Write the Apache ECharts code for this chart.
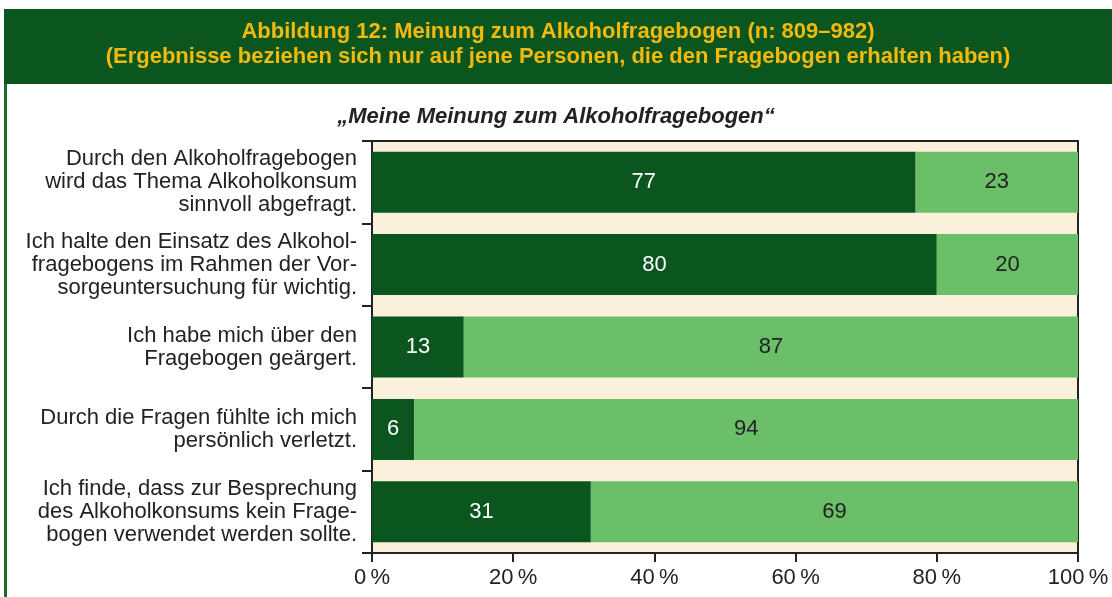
<!DOCTYPE html>
<html>
<head>
<meta charset="utf-8">
<script src="https://cdn.jsdelivr.net/npm/echarts@6/dist/echarts.min.js"></script>
<style>
  html, body { margin: 0; padding: 0; background: #fff; }
  #chart { width: 1112px; height: 597px; }
</style>
</head>
<body>
<div id="chart"></div>
<script>
// statements (top to bottom)
const categories = [
  'Durch den Alkoholfragebogen\nwird das Thema Alkoholkonsum\nsinnvoll abgefragt.',
  'Ich halte den Einsatz des Alkohol-\nfragebogens im Rahmen der Vor-\nsorgeuntersuchung für wichtig.',
  'Ich habe mich über den\nFragebogen geärgert.',
  'Durch die Fragen fühlte ich mich\npersönlich verletzt.',
  'Ich finde, dass zur Besprechung\ndes Alkoholkonsums kein Frage-\nbogen verwendet werden sollte.'
]
const agree = [77, 80, 13, 6, 31]
const disagree = [23, 20, 87, 94, 69]
const xTicks = [0, 20, 40, 60, 80, 100]

const dark = '#0b551f'
const light = '#6bbf68'
const ink = '#222'

let myChart = echarts.init(document.getElementById('chart'))

myChart.setOption({
  backgroundColor: '#fff',
  animation: false,
  textStyle: { fontFamily: 'Liberation Sans, Arial, sans-serif' },
  title: {
    text: '„Meine Meinung zum Alkoholfragebogen“',
    left: 'center',
    top: 101,
    textStyle: { fontSize: 22, fontWeight: 'bold', fontStyle: 'italic', color: ink }
  },
  graphic: [
    { type: 'rect', shape: { x: 4, y: 9, width: 1108, height: 75 }, style: { fill: dark } },
    { type: 'rect', shape: { x: 4, y: 84, width: 3, height: 513 }, style: { fill: '#1a6b2c' } },
    {
      type: 'text', x: 558, y: 44,
      style: {
        text: 'Abbildung 12: Meinung zum Alkoholfragebogen (n: 809–982)\n(Ergebnisse beziehen sich nur auf jene Personen, die den Fragebogen erhalten haben)',
        fill: '#f2b90f', font: 'bold 22px Liberation Sans, Arial, sans-serif',
        align: 'center', verticalAlign: 'middle', lineHeight: 25
      }
    }
  ],
  grid: {
    left: 372, right: 34, top: 141, bottom: 44,
    show: true, backgroundColor: '#faf0dc', borderColor: ink, borderWidth: 2
  },
  xAxis: {
    type: 'value', min: xTicks[0], max: xTicks[xTicks.length - 1], interval: 20,
    axisLine: { show: true, lineStyle: { color: ink, width: 2 } },
    axisTick: { show: true, length: 9, lineStyle: { color: ink, width: 2 } },
    splitLine: { show: false },
    axisLabel: { formatter: v => v + '\u2009%', fontSize: 22, color: ink, margin: 14 }
  },
  yAxis: {
    type: 'category', data: categories, inverse: true,
    axisLine: { show: true, lineStyle: { color: ink, width: 2 } },
    axisTick: { show: true, length: 10, lineStyle: { color: ink, width: 2 } },
    axisLabel: { interval: 0, fontSize: 22, color: ink, margin: 15, lineHeight: 23, align: 'right' }
  },
  series: [
    {
      type: 'bar', stack: 'all', data: agree, barWidth: 61,
      itemStyle: { color: dark },
      label: { show: true, position: 'inside', color: '#fff', fontSize: 22 }
    },
    {
      type: 'bar', stack: 'all', data: disagree, barWidth: 61,
      itemStyle: { color: light },
      label: { show: true, position: 'inside', color: ink, fontSize: 22 }
    }
  ]
})
window.onresize = function() {
  myChart.resize()
}
</script>
</body>
</html>
